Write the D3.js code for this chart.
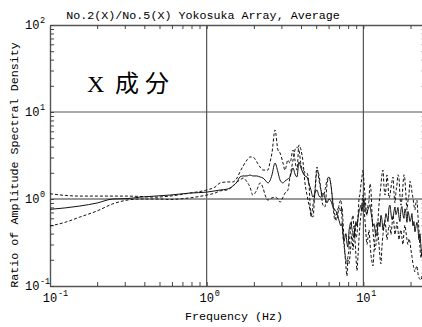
<!DOCTYPE html>
<html>
<head>
<meta charset="utf-8">
<script src="https://cdn.jsdelivr.net/npm/d3@7"></script>
<style>
  html, body { margin: 0; padding: 0; background: #fff; }
  svg { display: block; }
  text { font-family: "Liberation Mono", "DejaVu Sans Mono", monospace; fill: #000; }
</style>
</head>
<body>
<svg id="chart" width="422" height="327"></svg>
<script>
// Frequency samples (Hz)
const freqHz = [
  0.100, 0.125, 0.155, 0.200, 0.252, 0.310, 0.375, 0.468, 0.583, 0.780,
  1.00, 1.13, 1.22, 1.35, 1.47, 1.56, 1.63, 1.71, 1.81, 1.89,
  1.97, 2.09, 2.19, 2.29, 2.36, 2.46, 2.53, 2.61, 2.73, 2.85,
  2.94, 3.07, 3.16, 3.30, 3.40, 3.56, 3.66, 3.77, 3.88, 4.00,
  4.12, 4.24, 4.37, 4.50, 4.63, 4.77, 4.91, 5.06, 5.21, 5.36,
  5.52, 5.69, 5.86, 6.03, 6.21, 6.40, 6.59, 6.79, 6.99,
  7.20, 7.30, 7.41, 7.52, 7.63, 7.74, 7.86, 7.97, 8.09, 8.21,
  8.34, 8.46, 8.58, 8.71, 8.84, 8.97, 9.10, 9.24, 9.37, 9.51,
  9.65, 9.80, 9.94, 10.09, 10.24, 10.39, 10.54, 10.70, 10.86, 11.02,
  11.18, 11.35, 11.51, 11.69, 11.86, 12.03, 12.21, 12.39, 12.58, 12.76,
  12.95, 13.14, 13.34, 13.54, 13.74, 13.94, 14.15, 14.36, 14.57, 14.78,
  15.00, 15.23, 15.45, 15.68, 15.91, 16.14, 16.38, 16.63, 16.88, 17.12,
  17.38, 17.63, 17.89, 18.16, 18.43, 18.70, 18.98, 19.26, 19.54, 19.83,
  20.13, 20.42, 20.73, 21.03, 21.35, 21.66, 21.98, 22.30, 22.64, 22.97,
  23.32, 23.65, 24.0
];

// Average spectral ratio (solid)
const ratioAverage = [
  0.76, 0.79, 0.83, 0.90, 1.00, 1.01, 1.05, 1.08, 1.11, 1.17,
  1.20, 1.24, 1.27, 1.30, 1.41, 1.57, 1.79, 1.84, 1.84, 1.89,
  1.84, 1.84, 1.79, 1.74, 1.65, 1.53, 1.61, 1.89, 2.59, 2.04,
  1.65, 1.53, 1.61, 1.70, 1.79, 2.27, 1.94, 1.79, 2.66, 2.27,
  1.99, 1.84, 1.79, 1.49, 1.27, 1.05, 1.17, 1.27, 1.08, 1.05,
  1.17, 1.03, 0.90, 1.00, 0.95, 0.81, 0.75, 0.69, 0.57,
  0.49, 0.52, 0.41, 0.33, 0.36, 0.40, 0.31, 0.28, 0.42, 0.50,
  0.54, 0.45, 0.41, 0.36, 0.46, 0.55, 0.49, 0.60, 0.71, 0.78,
  0.85, 0.72, 0.90, 1.00, 0.79, 0.70, 0.67, 0.76, 0.81, 0.86,
  0.71, 0.60, 0.49, 0.52, 0.44, 0.38, 0.41, 0.50, 0.54, 0.48,
  0.65, 0.58, 0.44, 0.50, 0.57, 0.68, 0.62, 0.55, 0.79, 0.85,
  0.69, 0.58, 0.60, 0.72, 0.81, 0.66, 0.71, 0.80, 0.62, 0.55,
  0.75, 0.82, 0.67, 0.60, 0.77, 0.70, 0.54, 0.72, 0.65, 0.55,
  0.59, 0.68, 0.49, 0.55, 0.42, 0.48, 0.54, 0.46, 0.34, 0.40,
  0.28, 0.22, 0.25
];

// Upper bound (dashed)
const ratioUpper = [
  1.15, 1.10, 1.08, 1.08, 1.08, 1.08, 1.07, 1.05, 1.08, 1.17,
  1.27, 1.37, 1.53, 1.57, 1.57, 1.74, 2.04, 2.40, 2.81, 3.04,
  3.04, 2.66, 2.33, 2.15, 2.15, 2.15, 2.59, 3.38, 6.21, 3.66,
  3.38, 2.59, 2.15, 2.81, 2.59, 3.66, 2.81, 2.15, 4.18, 3.66,
  2.66, 1.53, 1.11, 0.85, 0.69, 0.62, 1.27, 2.33, 1.65, 1.27,
  1.05, 1.27, 1.65, 1.79, 1.45, 0.90, 0.65, 0.57, 0.85,
  0.97, 0.62, 0.37, 0.30, 0.23, 0.17, 0.13, 0.20, 0.18, 0.22,
  0.30, 0.40, 0.26, 0.34, 0.50, 0.36, 0.39, 0.62, 0.97, 1.15,
  1.45, 1.80, 2.15, 1.60, 1.11, 0.80, 0.65, 0.85, 0.97, 1.50,
  1.27, 0.70, 0.44, 0.32, 0.26, 0.30, 0.34, 0.55, 0.85, 1.10,
  1.45, 1.90, 2.15, 1.40, 1.11, 1.30, 1.89, 1.50, 1.03, 1.10,
  1.34, 1.60, 1.79, 1.20, 0.90, 1.20, 1.45, 1.90, 1.74, 1.10,
  0.85, 1.00, 1.41, 1.90, 1.65, 1.10, 0.75, 0.95, 1.11, 1.60,
  1.45, 1.20, 1.03, 0.85, 0.75, 0.90, 0.97, 0.65, 0.44, 0.28,
  0.21, 0.25, 0.34
];

// Lower bound (dashed)
const ratioLower = [
  0.49, 0.54, 0.62, 0.73, 0.88, 0.97, 1.00, 1.00, 0.99, 1.03,
  1.11, 1.17, 1.24, 1.27, 1.41, 1.57, 1.65, 1.74, 1.57, 1.37,
  1.11, 1.27, 1.53, 1.34, 1.11, 0.97, 1.00, 1.03, 1.05, 1.00,
  0.92, 1.05, 1.17, 1.27, 1.79, 2.81, 3.66, 3.95, 3.66, 2.46,
  2.15, 2.04, 1.99, 1.45, 0.62, 0.85, 1.17, 2.15, 1.89, 1.27,
  0.85, 0.81, 1.45, 1.79, 1.45, 0.85, 0.57, 0.71, 0.81,
  0.71, 0.80, 0.57, 0.35, 0.24, 0.20, 0.18, 0.22, 0.26, 0.38,
  0.50, 0.58, 0.65, 0.45, 0.34, 0.22, 0.15, 0.22, 0.34, 0.50,
  0.65, 0.90, 1.11, 0.80, 0.57, 0.40, 0.30, 0.36, 0.44, 0.32,
  0.23, 0.19, 0.17, 0.25, 0.34, 0.45, 0.54, 0.40, 0.30, 0.22,
  0.18, 0.28, 0.39, 0.48, 0.57, 0.45, 0.34, 0.40, 0.50, 0.48,
  0.39, 0.50, 0.65, 0.52, 0.39, 0.45, 0.54, 0.44, 0.34, 0.40,
  0.44, 0.36, 0.30, 0.42, 0.50, 0.42, 0.34, 0.30, 0.35, 0.32,
  0.26, 0.22, 0.18, 0.16, 0.145, 0.16, 0.17, 0.14, 0.125, 0.12,
  0.117, 0.13, 0.16
];

// Axis ticks
const xMajor = [0.1, 1, 10];
const xMajorExp = ["-1", "0", "1"];
const yMajor = [0.1, 1, 10, 100];
const yMajorExp = ["-1", "0", "1", "2"];
const xMinor = [0.2,0.3,0.4,0.5,0.6,0.7,0.8,0.9,2,3,4,5,6,7,8,9,20];
const yMinor = [0.2,0.3,0.4,0.5,0.6,0.7,0.8,0.9,2,3,4,5,6,7,8,9,20,30,40,50,60,70,80,90];

const titleText = "No.2(X)/No.5(X) Yokosuka Array, Average";
const xLabel = "Frequency (Hz)";
const yLabel = "Ratio of Amplitude Spectral Density";

const svg = d3.select("#chart");
const plotLeft = 50, plotTop = 25, plotBottom = 286;

const x = d3.scaleLog().domain([0.1, 25]).range([plotLeft, 425.7]);
const y = d3.scaleLog().domain([0.1, 100]).range([plotBottom, plotTop]);
const plotRight = x.range()[1];

svg.append("rect").attr("width", 422).attr("height", 327).attr("fill", "#fff");

svg.append("defs").append("clipPath").attr("id", "plot-clip")
  .append("rect").attr("x", plotLeft).attr("y", plotTop)
  .attr("width", plotRight - plotLeft).attr("height", plotBottom - plotTop);

// Grid lines at decades
const grid = svg.append("g");
grid.selectAll("line.gx").data([1, 10]).join("line")
  .attr("x1", d => x(d)).attr("x2", d => x(d))
  .attr("y1", plotTop).attr("y2", plotBottom)
  .attr("stroke", "#444").attr("stroke-width", 1.1);
grid.selectAll("line.gy").data([1, 10]).join("line")
  .attr("x1", plotLeft).attr("x2", plotRight)
  .attr("y1", d => y(d)).attr("y2", d => y(d))
  .attr("stroke", d => d === 1 ? "#777" : "#555")
  .attr("stroke-width", d => d === 1 ? 1.4 : 1.1);

// Axes with inward ticks
const tickLen = 4;
function styleAxis(g) {
  g.select(".domain").attr("stroke", "#555").attr("stroke-width", 1.4);
  g.selectAll(".tick line").attr("stroke", "#444").attr("stroke-width", 1);
  g.selectAll(".tick text").remove();
}
svg.append("g").attr("transform", `translate(0,${plotBottom})`)
  .call(d3.axisBottom(x).tickValues(xMinor.concat(xMajor)).tickSizeInner(-tickLen).tickSizeOuter(0).tickFormat(""))
  .call(styleAxis);
svg.append("g").attr("transform", `translate(0,${plotTop})`)
  .call(d3.axisTop(x).tickValues(xMinor.concat(xMajor)).tickSizeInner(-tickLen).tickSizeOuter(0).tickFormat(""))
  .call(styleAxis);
svg.append("g").attr("transform", `translate(${plotLeft},0)`)
  .call(d3.axisLeft(y).tickValues(yMinor.concat(yMajor)).tickSizeInner(-tickLen).tickSizeOuter(0).tickFormat(""))
  .call(styleAxis);
svg.append("g").attr("transform", `translate(${plotRight},0)`)
  .call(d3.axisRight(y).tickValues(yMinor.concat(yMajor)).tickSizeInner(-tickLen).tickSizeOuter(0).tickFormat(""))
  .call(styleAxis);

// Series lines
const plot = svg.append("g").attr("clip-path", "url(#plot-clip)");
const line = d3.line().x((d, i) => x(freqHz[i])).y(d => y(d)).curve(d3.curveMonotoneX);

[
  { values: ratioUpper, dash: "3,2" },
  { values: ratioLower, dash: "3,2" },
  { values: ratioAverage, dash: null }
].forEach(s => {
  plot.append("path")
    .attr("d", line(s.values))
    .attr("fill", "none")
    .attr("stroke", "#111")
    .attr("stroke-width", 1)
    .attr("stroke-dasharray", s.dash);
});

// Decade tick labels (10 with superscript exponent)
const labels = svg.append("g");
xMajor.forEach((v, i) => {
  labels.append("text").attr("x", x(v)).attr("y", 302)
    .attr("text-anchor", "middle").attr("font-size", 12).text("10");
  labels.append("text").attr("x", x(v) + 8).attr("y", 296)
    .attr("font-size", 8.5).text(xMajorExp[i]);
});
yMajor.forEach((v, i) => {
  labels.append("text").attr("x", 25).attr("y", y(v) + 4)
    .attr("font-size", 12).text("10");
  labels.append("text").attr("x", 40).attr("y", y(v) - 2)
    .attr("font-size", 8.5).text(yMajorExp[i]);
});

// Titles
svg.append("text").attr("x", 203).attr("y", 19).attr("text-anchor", "middle")
  .attr("font-size", 11.7).text(titleText);
svg.append("text").attr("x", 234).attr("y", 320).attr("text-anchor", "middle")
  .attr("font-size", 11.7).text(xLabel);
svg.append("text").attr("transform", "translate(18,165) rotate(-90)")
  .attr("text-anchor", "middle").attr("font-size", 11.7).text(yLabel);

// Component annotation
const note = svg.append("text").attr("y", 92).attr("font-size", 24);
note.append("tspan").attr("x", 87)
  .style("font-family", "'Liberation Serif', serif").text("X");
note.append("tspan").attr("x", 115)
  .style("font-family", "'Noto Sans CJK JP', sans-serif")
  .attr("letter-spacing", 6).text("成分");
</script>
</body>
</html>
